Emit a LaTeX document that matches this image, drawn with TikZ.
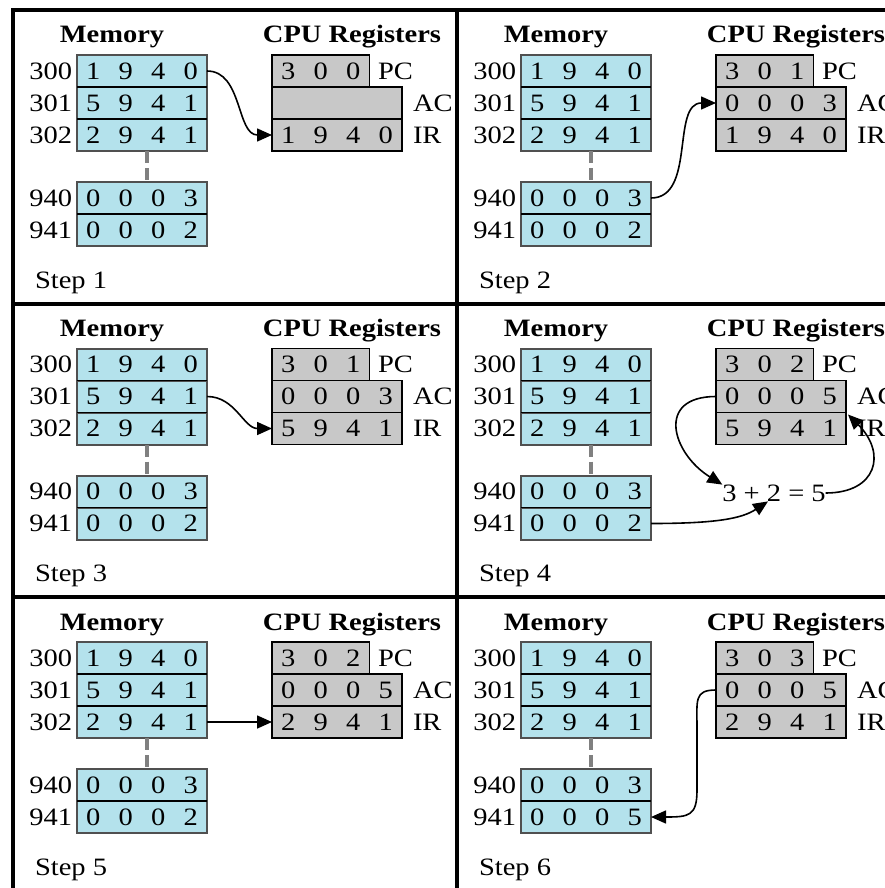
\documentclass[tikz,border=0pt]{standalone}
\usepackage{fontspec}
\setmainfont{Liberation Serif}[FakeStretch=1.14]
\usetikzlibrary{arrows.meta}
\definecolor{memblue}{RGB}{180,226,236}
\definecolor{reggray}{RGB}{200,200,200}
\definecolor{memline}{RGB}{80,80,80}
\newcommand\txt{\fontsize{25pt}{30pt}\selectfont}
\newcommand\dg[1]{\makebox[32.5pt]{#1}}
\tikzset{
 every node/.style={inner sep=0pt, outer sep=0pt, font=\txt},
 memcell/.style={rectangle, fill=memblue, draw=memline, line width=2pt, minimum width=130pt, minimum height=32pt},
 pcbox/.style={rectangle, fill=reggray, draw=black, line width=1.6pt, minimum width=97.5pt, minimum height=32pt},
 regbox/.style={pcbox, minimum width=130pt},
 addrlab/.style={anchor=east},
 reglab/.style={anchor=west},
 titlelab/.style={anchor=base, font=\txt\bfseries},
 steplab/.style={anchor=base west},
 rowsep/.style={line width=1.8pt, black},
 gapline/.style={line width=4pt, draw=gray, dash pattern=on 12pt off 5pt},
 flowarrow/.style={line width=1.6pt, -{Triangle[length=15pt,width=13pt]}},
 panelframe/.style={line width=4pt, black}
}
\newcommand\panel[8]{%
\begin{scope}[shift={(#1,#2)}, name prefix=#3]
 \node[titlelab] (tm) at (99,33) {Memory};
 \node[titlelab] (tc) at (339,33) {CPU Registers};
 \node[memcell] (m300) at (129,61) {\dg1\dg9\dg4\dg0};
 \node[memcell] (m301) at (129,93) {\dg5\dg9\dg4\dg1};
 \node[memcell] (m302) at (129,125) {\dg2\dg9\dg4\dg1};
 \node[memcell] (m940) at (129,188) {\dg0\dg0\dg0\dg3};
 \node[memcell] (m941) at (129,220) {#8};
 \draw[rowsep] (m300.south west) -- (m300.south east);
 \draw[rowsep] (m301.south west) -- (m301.south east);
 \draw[rowsep] (m940.south west) -- (m940.south east);
 \draw[gapline] ([xshift=5pt]m302.south) -- ([xshift=5pt]m940.north);
 \node[addrlab] (a300) at (59,61) {300};
 \node[addrlab] (a301) at (59,93) {301};
 \node[addrlab] (a302) at (59,125) {302};
 \node[addrlab] (a940) at (59,188) {940};
 \node[addrlab] (a941) at (59,220) {941};
 \node[pcbox] (pc) at (307.75,61) {#5};
 \node[regbox] (ac) at (324,93) {#6};
 \node[regbox] (ir) at (324,125) {#7};
 \draw[rowsep] (ac.south west) -- (ac.south east);
 \node[reglab] (lpc) at (365,61) {PC};
 \node[reglab] (lac) at (400,93) {AC};
 \node[reglab] (lir) at (400,125) {IR};
 \node[steplab] (st) at (22,278) {Step #4};
\end{scope}}
\begin{document}
\begin{tikzpicture}[x=1pt,y=-1pt]
\useasboundingbox (0,0) rectangle (884,888);
\fill[white] (0,0) rectangle (884,888);
\panel{13}{10}{p1-}{1}{\dg3\dg0\dg0}{}{\dg1\dg9\dg4\dg0}{\dg0\dg0\dg0\dg2}
\panel{457}{10}{p2-}{2}{\dg3\dg0\dg1}{\dg0\dg0\dg0\dg3}{\dg1\dg9\dg4\dg0}{\dg0\dg0\dg0\dg2}
\panel{13}{303.5}{p3-}{3}{\dg3\dg0\dg1}{\dg0\dg0\dg0\dg3}{\dg5\dg9\dg4\dg1}{\dg0\dg0\dg0\dg2}
\panel{457}{303.5}{p4-}{4}{\dg3\dg0\dg2}{\dg0\dg0\dg0\dg5}{\dg5\dg9\dg4\dg1}{\dg0\dg0\dg0\dg2}
\panel{13}{597}{p5-}{5}{\dg3\dg0\dg2}{\dg0\dg0\dg0\dg5}{\dg2\dg9\dg4\dg1}{\dg0\dg0\dg0\dg2}
\panel{457}{597}{p6-}{6}{\dg3\dg0\dg3}{\dg0\dg0\dg0\dg5}{\dg2\dg9\dg4\dg1}{\dg0\dg0\dg0\dg5}
\node (p4-eq) at (774,493) {3 + 2 = 5};
% frame
\draw[panelframe] (13,10) rectangle (901,890.5);
\draw[panelframe] (457,10) -- (457,890.5);
\draw[panelframe] (13,303.5) -- (901,303.5);
\draw[panelframe] (13,597) -- (901,597);
% data flow
\draw[flowarrow] (p1-m300.east) to[out=0,in=180] (p1-ir.west);
\draw[flowarrow] (p2-m940.east) to[out=0,in=180] (p2-ac.west);
\draw[flowarrow] (p3-m301.east) to[out=0,in=180] (p3-ir.west);
\draw[flowarrow] (p4-ac.west) .. controls +(-61,0) and +(-50,-31) .. (p4-eq.north west);
\draw[flowarrow] (p4-m941.east) .. controls +(66,0) and +(-26,17) .. ([xshift=-6pt]p4-eq.south);
\draw[flowarrow] (p4-eq.east) .. controls +(51,0) and +(39,39) .. ([shift={(2,2)}]p4-ac.south east);
\draw[flowarrow] (p5-m302.east) -- (p5-ir.west);
\draw[flowarrow] (p6-ac.west) .. controls +(-22,0) and +(0,-28) .. ++(-19,38) -- ++(0,62) .. controls +(0,26) and +(38,0) .. (p6-m941.east);
\end{tikzpicture}
\end{document}
